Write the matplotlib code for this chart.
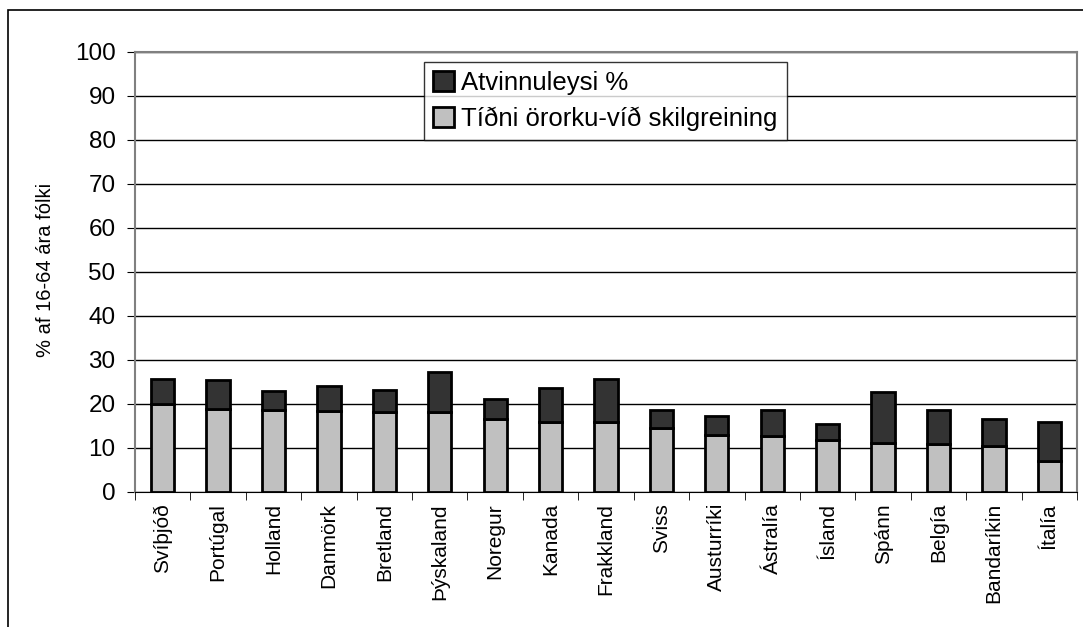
import matplotlib.pyplot as plt
import matplotlib.patches as mpatches
import numpy as np

plt.rcParams['font.family'] = ['Liberation Sans', 'DejaVu Sans']

# Lönd og gildi (lesið af myndinni)
lond = ['Svíþjóð', 'Portúgal', 'Holland', 'Danmörk', 'Bretland', 'Þýskaland',
        'Noregur', 'Kanada', 'Frakkland', 'Sviss', 'Austurríki', 'Ástralía',
        'Ísland', 'Spánn', 'Belgía', 'Bandaríkin', 'Ítalía']
tidni_ororku = [20.0, 18.9, 18.6, 18.4, 18.1, 18.1, 16.5, 16.0, 15.8, 14.5,
                12.9, 12.7, 11.9, 11.2, 10.8, 10.5, 7.0]
atvinnuleysi = [5.7, 6.6, 4.4, 5.7, 5.0, 9.2, 4.6, 7.7, 9.8, 4.2,
                4.3, 5.9, 3.6, 11.5, 7.8, 6.2, 8.8]

fig = plt.figure(figsize=(10.83, 6.27), dpi=100)
# ytri rammi
fig.patches.append(mpatches.Rectangle((8 / 1083, -0.1), 1.2, 1 - 10 / 627 + 0.1,
                                      transform=fig.transFigure, fill=False,
                                      edgecolor='black', linewidth=1.2))
ax = fig.add_axes([135 / 1083, 1 - 492 / 627, 942 / 1083, 440 / 627])

x = np.arange(len(lond))
ax.bar(x, tidni_ororku, width=0.42, color='#c0c0c0', edgecolor='black',
       linewidth=2.0, label='Tíðni örorku-víð skilgreining', zorder=3)
ax.bar(x, atvinnuleysi, width=0.42, bottom=tidni_ororku, color='#333333',
       edgecolor='black', linewidth=2.0, label='Atvinnuleysi %', zorder=3)

ax.set_xlim(-0.5, len(lond) - 0.5)
ax.set_ylim(0, 100)
ax.set_yticks(range(0, 101, 10))
ax.yaxis.grid(True, color='black', linewidth=1.0, zorder=0)
ax.set_xticks(x)
ax.set_xticklabels(lond, rotation=90, fontsize=15)
ax.set_xticks(np.arange(-0.5, len(lond)), minor=True)
ax.tick_params(axis='x', which='major', length=0, pad=8)
ax.tick_params(axis='x', which='minor', length=6, direction='out')
ax.tick_params(axis='y', labelsize=17.5, length=6, direction='out', pad=8)
ax.set_ylabel('% af 16-64 ára fólki', fontsize=14.5, va='center')
ax.yaxis.set_label_coords((46 - 135) / 942, (492 - 270) / 440)

for s in ['top', 'right', 'left']:
    ax.spines[s].set_color('#808080')
    ax.spines[s].set_linewidth(1.5)
ax.spines['bottom'].set_color('black')

h, l = ax.get_legend_handles_labels()
leg = ax.legend(h[::-1], l[::-1], loc='upper left', bbox_to_anchor=(0.307, 0.977),
                fontsize=18.5, frameon=True, fancybox=False, edgecolor='black',
                handlelength=0.8, handleheight=0.8, handletextpad=0.3,
                borderpad=0.35, labelspacing=0.45, borderaxespad=0)
leg.get_frame().set_linewidth(1.0)
leg.set_zorder(5)

plt.savefig('out.png', dpi=100)
